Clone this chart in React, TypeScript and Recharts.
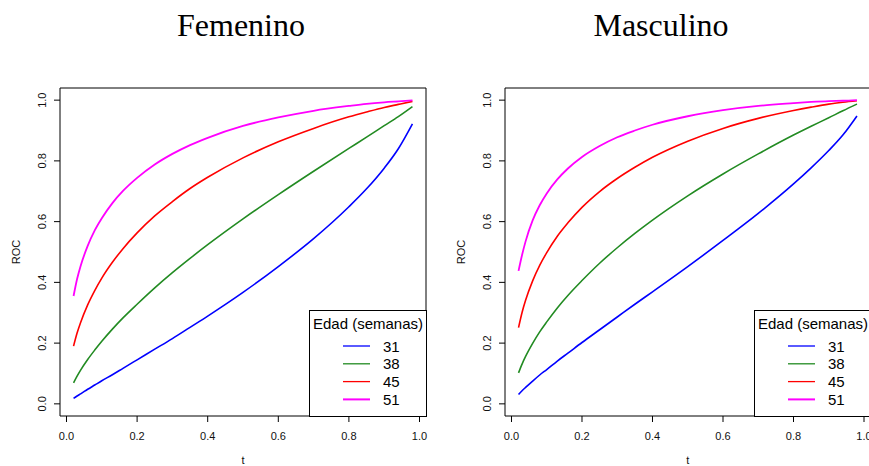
import { LineChart, Line, XAxis, YAxis, ReferenceArea, Legend } from "recharts";

// false positive rate grid shared by every curve
const tGrid = [0.02, 0.03, 0.04, 0.06, 0.08, 0.1, 0.13, 0.16, 0.2, 0.25, 0.3, 0.35, 0.4, 0.5, 0.6, 0.7, 0.8, 0.85, 0.9, 0.94, 0.98];

const ages = ["31", "38", "45", "51"];
const ageColors = ["#0000FF", "#228B22", "#FF0000", "#FF00FF"];
const ageWidths = [1.6, 1.6, 1.6, 1.8];

const fem31 = [0.018, 0.026, 0.033, 0.048, 0.062, 0.076, 0.096, 0.117, 0.145, 0.18, 0.215, 0.252, 0.289, 0.367, 0.452, 0.544, 0.649, 0.708, 0.776, 0.84, 0.922];
const fem38 = [0.069, 0.091, 0.111, 0.146, 0.177, 0.206, 0.246, 0.283, 0.328, 0.382, 0.432, 0.479, 0.524, 0.609, 0.689, 0.766, 0.841, 0.878, 0.916, 0.946, 0.979];
const fem45 = [0.19, 0.233, 0.268, 0.326, 0.373, 0.414, 0.466, 0.511, 0.563, 0.619, 0.666, 0.709, 0.746, 0.81, 0.863, 0.907, 0.945, 0.961, 0.976, 0.986, 0.996];
const fem51 = [0.355, 0.411, 0.454, 0.52, 0.571, 0.611, 0.661, 0.701, 0.744, 0.788, 0.823, 0.852, 0.876, 0.915, 0.943, 0.965, 0.981, 0.988, 0.993, 0.996, 0.999];

const mas31 = [0.031, 0.043, 0.054, 0.075, 0.095, 0.113, 0.141, 0.167, 0.202, 0.244, 0.286, 0.328, 0.369, 0.452, 0.538, 0.627, 0.724, 0.777, 0.834, 0.885, 0.948];
const mas38 = [0.102, 0.131, 0.156, 0.199, 0.237, 0.27, 0.316, 0.357, 0.406, 0.463, 0.514, 0.561, 0.605, 0.685, 0.757, 0.823, 0.885, 0.914, 0.942, 0.965, 0.987];
const mas45 = [0.251, 0.301, 0.341, 0.405, 0.456, 0.498, 0.552, 0.596, 0.647, 0.699, 0.742, 0.779, 0.812, 0.865, 0.907, 0.94, 0.966, 0.977, 0.987, 0.993, 0.998];
const mas51 = [0.438, 0.49, 0.535, 0.604, 0.654, 0.693, 0.739, 0.775, 0.813, 0.849, 0.878, 0.9, 0.919, 0.947, 0.967, 0.981, 0.99, 0.994, 0.997, 0.998, 1.0];

const xTicks = [0, 0.2, 0.4, 0.6, 0.8, 1.0];
const yTicks = [0, 0.2, 0.4, 0.6, 0.8, 1.0];
const xDomain = [-0.0184, 1.0184];
const yDomain = [-0.04, 1.04];

const buildRows = (series: number[][]) =>
  tGrid.map((t, i) => {
    const row: Record<string, number> = { t };
    ages.forEach((a, k) => (row[a] = series[k][i]));
    return row;
  });

const femRows = buildRows([fem31, fem38, fem45, fem51]);
const masRows = buildRows([mas31, mas38, mas45, mas51]);

const SANS = "'Liberation Sans', Arial, Helvetica, sans-serif";
const SERIF = "'Liberation Serif', 'Times New Roman', serif";

const YTick = (props: any) => {
  const { x, y, payload } = props;
  const cx = x - 10;
  return (
    <text x={cx} y={y} transform={`rotate(-90, ${cx}, ${y})`} textAnchor="middle" dominantBaseline="central"
      fontSize={11} fontFamily={SANS} fill="#111">
      {payload.value.toFixed(1)}
    </text>
  );
};

const RocLabel = (props: any) => {
  const { x, y, width, height } = props.viewBox;
  const cx = x + width - 44;
  const cy = y + height / 2;
  return (
    <text x={cx} y={cy} transform={`rotate(-90, ${cx}, ${cy})`} textAnchor="middle" dominantBaseline="central"
      fontSize={11} fontFamily={SANS} fill="#111">
      ROC
    </text>
  );
};

const AgeLegend = () => (
  <svg width={118} height={107} style={{ display: "block" }}>
    <rect x={0.5} y={0.5} width={117} height={106} fill="#fff" stroke="#000" />
    <text x={4} y={13.5} dominantBaseline="central" fontSize={15} fontFamily={SANS} fill="#000">
      Edad (semanas)
    </text>
    {ages.map((a, i) => {
      const ry = 36 + i * 17.8;
      return (
        <g key={a}>
          <line x1={34} x2={61} y1={ry} y2={ry} stroke={ageColors[i]} strokeWidth={i === 3 ? 2 : 1.3} />
          <text x={74} y={ry} dominantBaseline="central" fontSize={15} fontFamily={SANS} fill="#000">
            {a}
          </text>
        </g>
      );
    })}
  </svg>
);

type PanelProps = { rows: Record<string, number>[]; left: number; yAxisWidth: number; rightMargin: number };

function RocPanel({ rows, left, yAxisWidth, rightMargin }: PanelProps) {
  const width = 440;
  const boxRight = width - rightMargin;
  return (
    <div style={{ position: "absolute", left, top: 0 }}>
      <LineChart width={width} height={466} data={rows} margin={{ top: 88, right: rightMargin, bottom: 0, left: 0 }}>
        <XAxis
          dataKey="t"
          type="number"
          domain={xDomain}
          ticks={xTicks}
          allowDataOverflow
          axisLine={false}
          tickSize={6}
          tickMargin={10}
          tickLine={{ stroke: "#000" }}
          height={50}
          tick={{ fontSize: 11, fontFamily: SANS, fill: "#111" }}
          tickFormatter={(v: number) => v.toFixed(1)}
          label={{ value: "t", position: "insideBottom", offset: 2, fontSize: 11, fontFamily: SANS, fill: "#111" }}
        />
        <YAxis
          type="number"
          domain={yDomain}
          ticks={yTicks}
          allowDataOverflow
          axisLine={false}
          tickSize={6}
          tickLine={{ stroke: "#000" }}
          width={yAxisWidth}
          tick={<YTick />}
          label={<RocLabel />}
        />
        <ReferenceArea x1={xDomain[0]} x2={xDomain[1]} y1={yDomain[0]} y2={yDomain[1]} fill="none" fillOpacity={0}
          stroke="#000" strokeWidth={1} ifOverflow="visible" />
        {ages.map((a, i) => (
          <Line key={a} dataKey={a} type="monotone" stroke={ageColors[i]} strokeWidth={ageWidths[i]} dot={false}
            activeDot={false} isAnimationActive={false} />
        ))}
        <Legend layout="vertical" align="center" verticalAlign="middle" width={118} height={107}
          wrapperStyle={{ left: boxRight - 117, top: 310 }} content={<AgeLegend />} />
      </LineChart>
    </div>
  );
}

export default function App() {
  return (
    <div style={{ position: "absolute", left: 0, top: 0, width: 869, height: 466, overflow: "hidden", background: "#fff" }}>
      <RocPanel rows={femRows} left={0} yAxisWidth={60} rightMargin={14} />
      <RocPanel rows={masRows} left={440} yAxisWidth={65} rightMargin={9.5} />
      <svg width={869} height={60} style={{ position: "absolute", left: 0, top: 0 }}>
        <text x={241} y={36} textAnchor="middle" fontSize={32} fontFamily={SERIF} fill="#000">
          Femenino
        </text>
        <text x={661} y={36} textAnchor="middle" fontSize={32} fontFamily={SERIF} fill="#000">
          Masculino
        </text>
      </svg>
    </div>
  );
}
